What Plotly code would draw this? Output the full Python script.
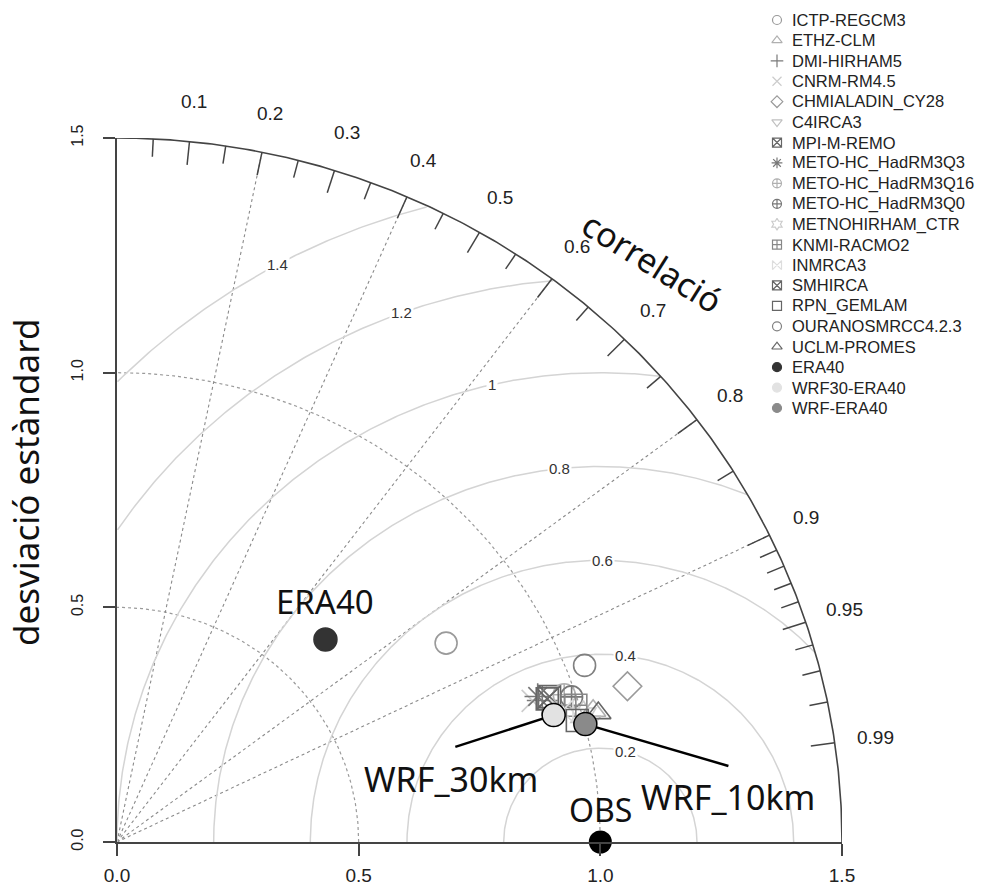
import numpy as np
import plotly.graph_objects as go

# ---------------- data ----------------
models = ["ICTP-REGCM3", "ETHZ-CLM", "DMI-HIRHAM5", "CNRM-RM4.5", "CHMIALADIN_CY28",
          "C4IRCA3", "MPI-M-REMO", "METO-HC_HadRM3Q3", "METO-HC_HadRM3Q16",
          "METO-HC_HadRM3Q0", "METNOHIRHAM_CTR", "KNMI-RACMO2", "INMRCA3", "SMHIRCA",
          "RPN_GEMLAM", "OURANOSMRCC4.2.3", "UCLM-PROMES", "ERA40", "WRF30-ERA40", "WRF-ERA40"]
# normalised standard deviation and correlation of each simulation
model_std = [0.802, 1.024, 0.930, 0.911, 1.107,
             1.008, 0.947, 0.924, 0.977,
             0.990, 1.002, 0.993, 0.962, 0.941,
             0.987, 1.038, 1.033, 0.610, 0.943, 1.001]
model_corr = [0.849, 0.962, 0.946, 0.944, 0.954,
              0.967, 0.945, 0.942, 0.947,
              0.950, 0.963, 0.956, 0.957, 0.946,
              0.965, 0.932, 0.964, 0.707, 0.958, 0.968]
model_symbols = ["circle-open", "triangle-up-open", "cross-thin-open", "x-thin-open", "diamond-open",
                 "triangle-down-open", "square-x-open", "asterisk-open", "circle-cross-open",
                 "circle-cross-open", "hexagram-open", "square-cross-open", "bowtie-open", "square-x-open",
                 "square-open", "circle-open", "triangle-up-open", "circle", "circle", "circle"]
model_colors = ["#9a9a9a", "#b0b0b0", "#7a7a7a", "#cccccc", "#9a9a9a",
                "#c0c0c0", "#666666", "#777777", "#b0b0b0",
                "#777777", "#cccccc", "#888888", "#dddddd", "#666666",
                "#666666", "#808080", "#666666", "#333333", "#e2e2e2", "#8a8a8a"]

obs_std, obs_corr = 1.0, 1.0

corr_major = [0.1, 0.2, 0.3, 0.4, 0.5, 0.6, 0.7, 0.8, 0.9, 0.95, 0.99]
corr_major_labels = ["0.1", "0.2", "0.3", "0.4", "0.5", "0.6", "0.7", "0.8", "0.9", "0.95", "0.99"]
corr_minor = [0.05, 0.15, 0.25, 0.35, 0.45, 0.55, 0.65, 0.75, 0.85,
              0.91, 0.92, 0.93, 0.94, 0.96, 0.97, 0.98]
corr_rays = [0.2, 0.4, 0.6, 0.8, 0.9]
rms_levels = [0.2, 0.4, 0.6, 0.8, 1.0, 1.2, 1.4]
rms_labels = ["0.2", "0.4", "0.6", "0.8", "1", "1.2", "1.4"]
rms_label_angle_deg = [75, 82.5, 89.5, 96, 103, 110, 118.5]
std_arcs = [0.5, 1.0]
axis_ticks = [0.0, 0.5, 1.0, 1.5]
axis_ticktext = ["0.0", "0.5", "1.0", "1.5"]
MAX_STD = 1.5

W, H = 987, 890
SANS = "Liberation Sans, Arial, Helvetica, sans-serif"
BIG = "Noto Sans, Open Sans, sans-serif"
XDOM = [117 / W, 842 / W]
YDOM = [48 / H, 752 / H]


def polar_xy(s, c):
    s = np.asarray(s, float)
    c = np.asarray(c, float)
    return s * c, s * np.sqrt(1 - c ** 2)


def to_paper(x, y):
    return (XDOM[0] + x / MAX_STD * (XDOM[1] - XDOM[0]),
            YDOM[0] + y / MAX_STD * (YDOM[1] - YDOM[0]))


fig = go.Figure()

# std-dev dotted arcs
for r in std_arcs:
    t = np.linspace(0, np.pi / 2, 200)
    fig.add_trace(go.Scatter(x=r * np.cos(t), y=r * np.sin(t), mode="lines",
                             line=dict(color="#9a9a9a", width=1.2, dash="dot"),
                             hoverinfo="skip", showlegend=False))

# correlation rays
for c in corr_rays:
    x1, y1 = polar_xy(MAX_STD, c)
    fig.add_trace(go.Scatter(x=[0, x1], y=[0, y1], mode="lines",
                             line=dict(color="#8a8a8a", width=1.1, dash="dot"),
                             hoverinfo="skip", showlegend=False))

# RMS circles centred on the reference point
for r in rms_levels:
    t = np.linspace(0, np.pi, 600)
    xs = obs_std + r * np.cos(t)
    ys = r * np.sin(t)
    ok = (xs >= 0) & (np.hypot(xs, ys) <= MAX_STD)
    xs = np.where(ok, xs, np.nan)
    ys = np.where(ok, ys, np.nan)
    fig.add_trace(go.Scatter(x=xs, y=ys, mode="lines", connectgaps=False,
                             line=dict(color="#d4d4d4", width=1.5),
                             hoverinfo="skip", showlegend=False))

# outer correlation arc
t = np.linspace(0, np.pi / 2, 300)
fig.add_trace(go.Scatter(x=MAX_STD * np.cos(t), y=MAX_STD * np.sin(t), mode="lines",
                         line=dict(color="#444444", width=1.6), cliponaxis=False,
                         hoverinfo="skip", showlegend=False))

# correlation tick marks
tx, ty = [], []
for c, ln in [(c, 0.05) for c in corr_major] + [(c, 0.038) for c in corr_minor]:
    xa, ya = polar_xy(MAX_STD, c)
    xb, yb = polar_xy(MAX_STD - ln, c)
    tx += [xa, xb, None]
    ty += [ya, yb, None]
fig.add_trace(go.Scatter(x=tx, y=ty, mode="lines", line=dict(color="#444444", width=1.5),
                         hoverinfo="skip", showlegend=False))

# model markers
mx, my = polar_xy(model_std, model_corr)
for i, name in enumerate(models):
    filled = not model_symbols[i].endswith("open")
    if filled:
        outline = "black" if name.startswith("WRF") else model_colors[i]
        mk = dict(symbol=model_symbols[i], size=23, color=model_colors[i],
                  line=dict(color=outline, width=1.5))
    else:
        mk = dict(symbol=model_symbols[i], size=22, color=model_colors[i],
                  line=dict(color=model_colors[i], width=1.6))
    fig.add_trace(go.Scatter(x=[mx[i]], y=[my[i]], mode="markers", marker=mk,
                             name=name, showlegend=False, cliponaxis=False))

# reference point
ox, oy = polar_xy([obs_std], [obs_corr])
fig.add_trace(go.Scatter(x=ox, y=oy, mode="markers", cliponaxis=False,
                         marker=dict(symbol="circle", size=23, color="black"),
                         showlegend=False, name="OBS"))

# manual legend (markers on an overlay axis, one row per model)
rows = list(range(len(models)))
for i, name in enumerate(models):
    fig.add_trace(go.Scatter(x=[0], y=[rows[i]], xaxis="x2", yaxis="y2", mode="markers",
                             marker=dict(symbol=model_symbols[i], size=9, color=model_colors[i],
                                         line=dict(color=model_colors[i], width=1.2)),
                             hoverinfo="skip", showlegend=False, cliponaxis=False))

annotations = []
for i, name in enumerate(models):
    annotations.append(dict(x=790 / W, y=rows[i], xref="paper", yref="y2", text=name,
                            showarrow=False, xanchor="left", yanchor="middle",
                            font=dict(family=SANS, size=16.5, color="#222")))

# correlation labels
for c, lab in zip(corr_major, corr_major_labels):
    lx, ly = to_paper(*polar_xy(1.585, c))
    annotations.append(dict(x=lx, y=ly, xref="paper", yref="paper", text=lab, showarrow=False,
                            xanchor="center", yanchor="middle",
                            font=dict(family=SANS, size=19, color="#222")))

# RMS labels
for r, lab, a in zip(rms_levels, rms_labels, rms_label_angle_deg):
    lx = obs_std + r * np.cos(np.radians(a))
    ly = r * np.sin(np.radians(a))
    annotations.append(dict(x=lx, y=ly, xref="x", yref="y", text=lab, showarrow=False,
                            xanchor="center", yanchor="middle", bgcolor="white", borderpad=1,
                            font=dict(family=SANS, size=15, color="#333")))

# callouts
era_i = models.index("ERA40")
annotations.append(dict(x=mx[era_i], y=my[era_i], xref="x", yref="y", text="ERA40",
                        showarrow=False, yshift=38, xanchor="center", yanchor="middle",
                        font=dict(family=BIG, size=33, color="#111")))
annotations.append(dict(x=ox[0], y=oy[0], xref="x", yref="y", text="OBS",
                        showarrow=False, yshift=33, xanchor="center", yanchor="middle",
                        font=dict(family=BIG, size=32, color="#111")))
annotations.append(dict(x=0.6915, y=0.134, xref="x", yref="y", text="WRF_30km",
                        showarrow=False, xanchor="center", yanchor="middle",
                        font=dict(family=BIG, size=34, color="#111")))
annotations.append(dict(x=1.265, y=0.096, xref="x", yref="y", text="WRF_10km",
                        showarrow=False, xanchor="center", yanchor="middle",
                        font=dict(family=BIG, size=34, color="#111")))
annotations.append(dict(x=1.108, y=1.236, xref="x", yref="y", text="correlació",
                        showarrow=False, textangle=32, xanchor="center", yanchor="middle",
                        font=dict(family=BIG, size=34, color="#111")))
annotations.append(dict(x=25 / W, y=1 - 483 / H, xref="paper", yref="paper",
                        text="desviació estàndard", showarrow=False, textangle=-90,
                        xanchor="center", yanchor="middle",
                        font=dict(family=BIG, size=35, color="#111")))

w30 = models.index("WRF30-ERA40")
w10 = models.index("WRF-ERA40")
shapes = [
    dict(type="line", xref="x", yref="y", x0=0.700, y0=0.2026, x1=mx[w30], y1=my[w30],
         line=dict(color="black", width=2.5), layer="below"),
    dict(type="line", xref="x", yref="y", x0=mx[w10], y0=my[w10], x1=1.265, y1=0.162,
         line=dict(color="black", width=2.5), layer="below"),
]

fig.update_layout(
    width=W, height=H,
    margin=dict(l=0, r=0, t=0, b=0, autoexpand=False),
    paper_bgcolor="white", plot_bgcolor="rgba(0,0,0,0)",
    showlegend=False,
    hovermode=False,
    annotations=annotations,
    shapes=shapes,
    xaxis=dict(domain=XDOM, range=[0, MAX_STD], showgrid=False, zeroline=False,
               automargin=False,
               showline=True, linecolor="#444", linewidth=1.6,
               tickmode="array", tickvals=axis_ticks, ticktext=axis_ticktext,
               ticks="outside", ticklen=12, tickwidth=1.5, tickcolor="#444",
               ticklabelstandoff=3,
               tickfont=dict(family=SANS, size=19, color="#222")),
    yaxis=dict(domain=YDOM, range=[0, MAX_STD], showgrid=False, zeroline=False,
               automargin=False,
               showline=True, linecolor="#444", linewidth=1.6,
               tickmode="array", tickvals=axis_ticks, ticktext=axis_ticktext,
               ticks="outside", ticklen=12, tickwidth=1.5, tickcolor="#444",
               tickangle=-90, ticklabelstandoff=14,
               tickfont=dict(family=SANS, size=16, color="#222")),
    xaxis2=dict(domain=[767 / W, 787 / W], range=[-1, 1], visible=False, fixedrange=True,
                automargin=False, anchor="y2"),
    yaxis2=dict(domain=[1 - 418.2 / H, 1 - 9.8 / H], range=[19.5, -0.5], visible=False,
                fixedrange=True, anchor="x2", automargin=False),
)

fig.write_html("out.html", config={"displayModeBar": False},
               post_script="document.body.style.margin='0';")
